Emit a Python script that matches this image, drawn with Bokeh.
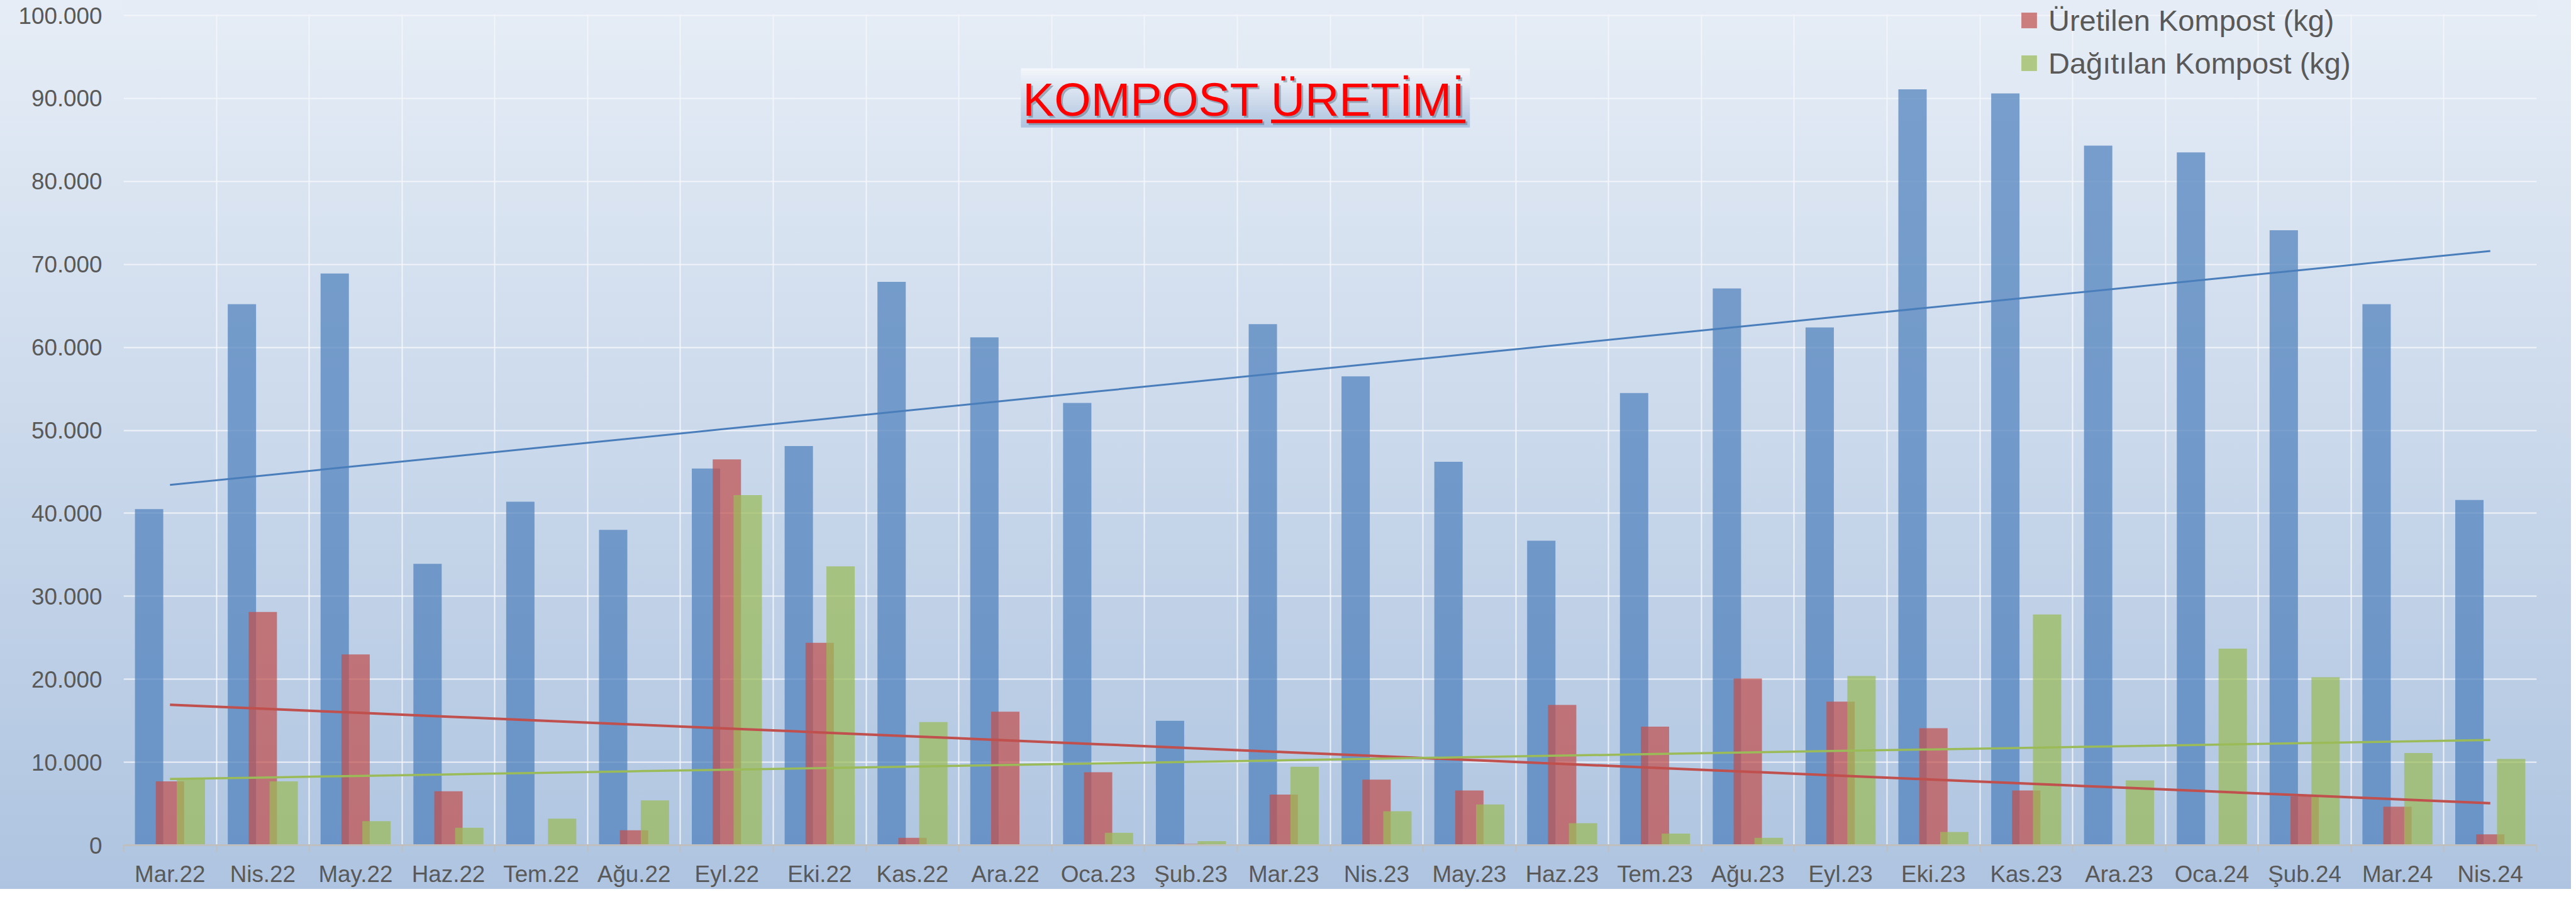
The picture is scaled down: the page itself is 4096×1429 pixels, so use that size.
import numpy as np
from bokeh.plotting import figure
from bokeh.models import (FixedTicker, Legend, LegendItem, Label, BoxAnnotation,
                          ColumnDataSource, Range1d)
from bokeh.transform import dodge
from bokeh.embed import file_html
from bokeh.resources import INLINE

# ---------------- data ----------------
months = ["Mar.22", "Nis.22", "May.22", "Haz.22", "Tem.22", "Ağu.22", "Eyl.22", "Eki.22",
          "Kas.22", "Ara.22", "Oca.23", "Şub.23", "Mar.23", "Nis.23", "May.23", "Haz.23",
          "Tem.23", "Ağu.23", "Eyl.23", "Eki.23", "Kas.23", "Ara.23", "Oca.24", "Şub.24",
          "Mar.24", "Nis.24"]
toplanan = [40500, 65200, 68900, 33900, 41400, 38000, 45400, 48100, 67900, 61200,
            53300, 15000, 62800, 56500, 46200, 36700, 54500, 67100, 62400, 91100,
            90600, 84300, 83500, 74100, 65200, 41600]
uretilen = [7700, 28100, 23000, 6500, 0, 1800, 46500, 24400, 900, 16100,
            8800, 150, 6100, 7900, 6600, 16900, 14300, 20100, 17300, 14100,
            6600, 0, 0, 5900, 4650, 1300]
dagitilan = [8000, 7700, 2900, 2100, 3200, 5400, 42200, 33600, 14850, 100,
             1500, 500, 9450, 4100, 4900, 2650, 1400, 900, 20400, 1600,
             27800, 7800, 23700, 20250, 11100, 10400]
y_ticks = [0, 10000, 20000, 30000, 40000, 50000, 60000, 70000, 80000, 90000, 100000]
y_tick_labels = ["0", "10.000", "20.000", "30.000", "40.000", "50.000", "60.000",
                 "70.000", "80.000", "90.000", "100.000"]
legend_labels = ["Üretilen Kompost (kg)", "Dağıtılan Kompost (kg)"]
title_text = "KOMPOST ÜRETİMİ"

# ---------------- layout ----------------
W, H = 4088, 1413
FL, FR, FB = 196, 55, 70
TOP_GAP = 24                    # space between canvas top and the 100.000 line
FRAME_H = H - FB                # frame reaches the canvas top (so the legend is not clipped)
PLOT_H = FRAME_H - TOP_GAP      # pixels covering 0 .. 100.000
FONT = "Liberation Sans"
TXT = "#595959"

n = len(months)
idx = list(range(n))
y_max = y_ticks[-1]
y_end = y_max * FRAME_H / PLOT_H

p = figure(width=W, height=H, x_range=Range1d(-0.5, n - 0.5), y_range=Range1d(0, y_end),
           output_backend="svg", toolbar_location=None,
           min_border_left=FL, min_border_right=FR, min_border_top=0, min_border_bottom=FB)
p.background_fill_alpha = 0
p.border_fill_alpha = 0
p.outline_line_color = None
p.styles = {"background": "linear-gradient(180deg, #E6EDF6 0%, #AEC4E0 100%)"}

# grids
boundaries = [i - 0.5 for i in range(n + 1)]
p.xgrid.ticker = FixedTicker(ticks=boundaries)
p.ygrid.ticker = FixedTicker(ticks=y_ticks)
for g in (p.xgrid[0], p.ygrid[0]):
    g.grid_line_color = "#F4F6FA"
    g.grid_line_width = 2
    g.grid_line_alpha = 0.9

# x axis: labels at category centres, tick marks at category boundaries
xa = p.xaxis[0]
xa.ticker = FixedTicker(ticks=idx, minor_ticks=boundaries)
xa.major_label_overrides = {i: m for i, m in enumerate(months)}
xa.major_tick_line_color = None
xa.major_tick_in = 0
xa.major_tick_out = 0
xa.minor_tick_line_color = "#BFBFBF"
xa.minor_tick_line_width = 2
xa.minor_tick_in = 0
xa.minor_tick_out = 11
xa.axis_line_color = "#BFBFBF"
xa.axis_line_width = 3
xa.major_label_text_font = FONT
xa.major_label_text_font_size = "36.8px"
xa.major_label_text_color = TXT
xa.major_label_standoff = 14

# y axis
ya = p.yaxis[0]
ya.ticker = FixedTicker(ticks=y_ticks)
ya.major_label_overrides = dict(zip(y_ticks, y_tick_labels))
ya.axis_line_color = None
ya.major_tick_line_color = None
ya.minor_tick_line_color = None
ya.major_tick_in = 0
ya.major_tick_out = 0
ya.major_label_text_font = FONT
ya.major_label_text_font_size = "36.8px"
ya.major_label_text_color = TXT
ya.major_label_standoff = 34

# ---------------- bars ----------------
src = ColumnDataSource(dict(x=idx, month=months, toplanan=toplanan,
                            uretilen=uretilen, dagitilan=dagitilan))
BW, OFF, ALPHA = 0.305, 0.225, 0.72
C_BLUE, C_RED, C_GREEN = "#4F81BD", "#C0504D", "#9BBB59"
p.vbar(x=dodge("x", -OFF), top="toplanan", width=BW, source=src,
       fill_color=C_BLUE, fill_alpha=ALPHA, line_color=None)
p.vbar(x=dodge("x", 0.0), top="uretilen", width=BW, source=src,
       fill_color=C_RED, fill_alpha=ALPHA, line_color=None)
p.vbar(x=dodge("x", OFF), top="dagitilan", width=BW, source=src,
       fill_color=C_GREEN, fill_alpha=ALPHA, line_color=None)

# linear trend lines (least squares, as in the spreadsheet)
xs = np.arange(n)
for series, col, lw in ((toplanan, "#4A7EBB", 3), (uretilen, C_RED, 4), (dagitilan, C_GREEN, 3.5)):
    coef = np.polyfit(xs, np.array(series, dtype=float), 1)
    p.line(xs, np.polyval(coef, xs), line_color=col, line_width=lw)

# hide the vertical grid lines above the 100.000 line (chart area starts there)
p.add_layout(BoxAnnotation(left=0, right=W, top=FRAME_H + 1, bottom=PLOT_H + 1.5,
                           left_units="screen", right_units="screen",
                           top_units="screen", bottom_units="screen",
                           fill_color="#E5ECF5", fill_alpha=1, line_color=None, level="annotation"))

# ---------------- legend ----------------
# square swatches: hidden scatter views of the same two series
leg_red = p.scatter(x="x", y="uretilen", source=src, marker="square",
                    fill_color=C_RED, fill_alpha=ALPHA, line_color=None, visible=False)
leg_green = p.scatter(x="x", y="dagitilan", source=src, marker="square",
                      fill_color=C_GREEN, fill_alpha=ALPHA, line_color=None, visible=False)
legend = Legend(items=[LegendItem(label=legend_labels[0], renderers=[leg_red]),
                       LegendItem(label=legend_labels[1], renderers=[leg_green])],
                location=(2999, 1212), orientation="vertical",
                glyph_width=62, glyph_height=62, label_height=62, spacing=6,
                label_standoff=-6, padding=0, margin=0,
                inactive_fill_alpha=0,
                label_text_font=FONT, label_text_font_size="47px", label_text_color=TXT,
                border_line_color=None, background_fill_alpha=0)
p.add_layout(legend)

# ---------------- title box ----------------
def fy(canvas_y):
    return FRAME_H - canvas_y

def fx(canvas_x):
    return canvas_x - FL

box_l, box_r, box_t, box_b = 1622.8, 2336.7, 108.3, 201.9
c0 = np.array([0xF4, 0xF7, 0xFB], dtype=float)
c1 = np.array([0xAE, 0xC3, 0xDF], dtype=float)
NS = 24
for k in range(NS):
    t = (k + 0.5) / NS
    c = c0 + (c1 - c0) * t
    col = "#%02X%02X%02X" % tuple(int(round(v)) for v in c)
    y0 = box_t + (box_b - box_t) * k / NS
    y1 = box_t + (box_b - box_t) * (k + 1) / NS
    p.add_layout(BoxAnnotation(left=fx(box_l), right=fx(box_r), top=fy(y0) + 0.4, bottom=fy(y1) - 0.4,
                               left_units="screen", right_units="screen",
                               top_units="screen", bottom_units="screen",
                               fill_color=col, fill_alpha=1, line_color=None, level="annotation"))

title_x = fx(1977.9)
title_y = fy(182.2) + 25
underlines = [(1632.0, 2006.7), (2020.6, 2329.7)]
ul_top, ul_bot = 189.4, 195.3

# shadow
p.add_layout(Label(x=title_x + 3, y=title_y - 3, x_units="screen", y_units="screen",
                   text=title_text, text_align="center", text_baseline="alphabetic",
                   text_font=FONT, text_font_size="75px", text_color="#55657A", text_alpha=0.45))
for (a, b) in underlines:
    p.add_layout(BoxAnnotation(left=fx(a) + 3, right=fx(b) + 3, top=fy(ul_top) - 3, bottom=fy(ul_bot) - 3,
                               left_units="screen", right_units="screen",
                               top_units="screen", bottom_units="screen",
                               fill_color="#55657A", fill_alpha=0.45, line_color=None, level="annotation"))
# text
p.add_layout(Label(x=title_x, y=title_y, x_units="screen", y_units="screen",
                   text=title_text, text_align="center", text_baseline="alphabetic",
                   text_font=FONT, text_font_size="75px", text_color="#FF0000"))
for (a, b) in underlines:
    p.add_layout(BoxAnnotation(left=fx(a), right=fx(b), top=fy(ul_top), bottom=fy(ul_bot),
                               left_units="screen", right_units="screen",
                               top_units="screen", bottom_units="screen",
                               fill_color="#FF0000", fill_alpha=1, line_color=None, level="annotation"))

open("out.html", "w", encoding="utf-8").write(file_html(p, INLINE))
